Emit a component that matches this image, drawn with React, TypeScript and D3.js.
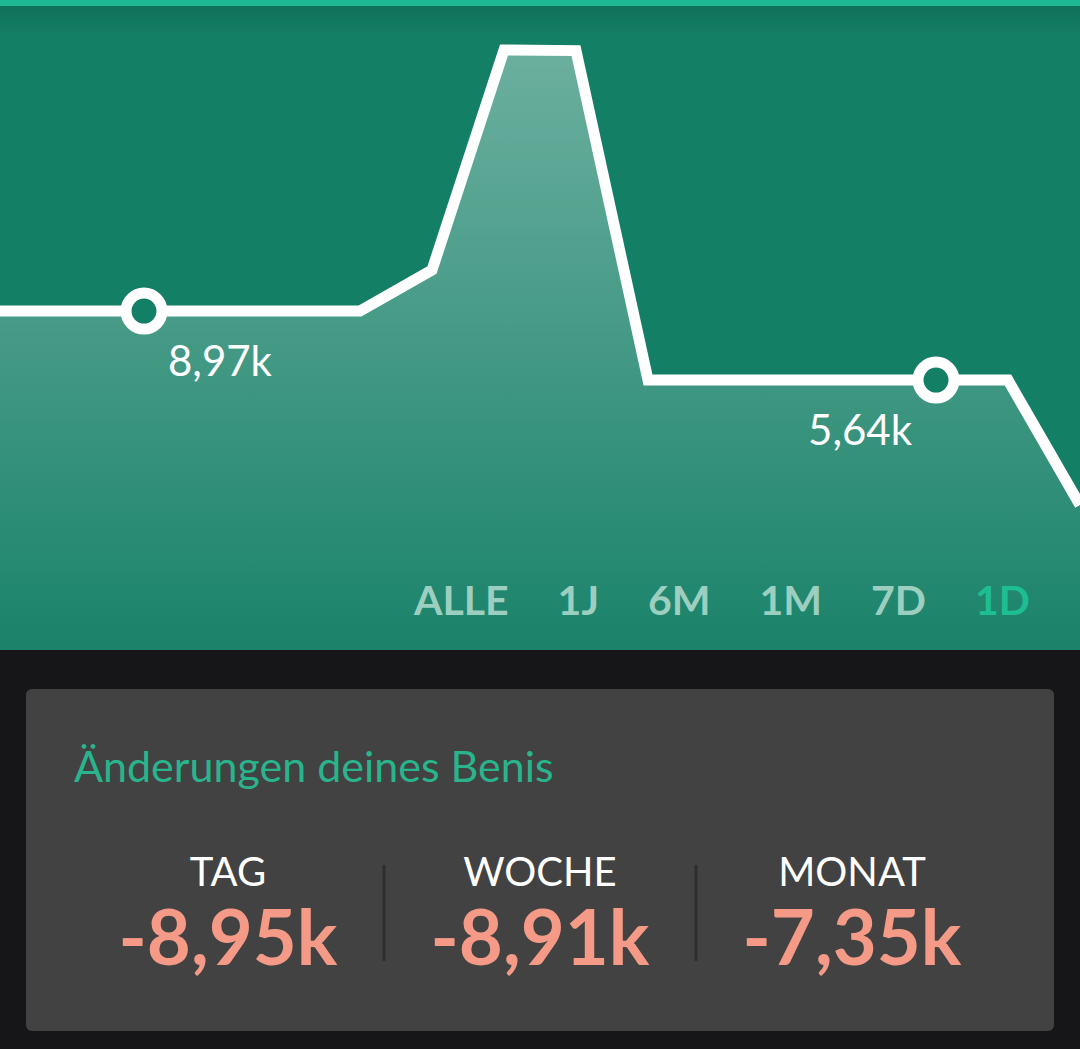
import React, { useEffect, useRef } from 'react';
import * as d3 from 'd3';

// Benis over the day, in thousands (one point every step)
const steps = [0, 1, 2, 3, 4, 5, 6, 7, 8, 9, 10, 11, 12, 13, 14, 15];
const benis = [8.97, 8.97, 8.97, 8.97, 8.97, 8.97, 10.95, 21.57, 21.54, 5.64, 5.64, 5.64, 5.64, 5.64, 5.64, -0.39];

// labelled markers: index into series, label
const markerIdx = [2, 13];
const markerText = ['8,97k', '5,64k'];

const ranges = ['ALLE', '1J', '6M', '1M', '7D', '1D'];
const activeRange = '1D';

const statLabels = ['TAG', 'WOCHE', 'MONAT'];
const statValues = ['-8,95k', '-8,91k', '-7,35k'];

const W = 1080;
const H = 1049;
const panelH = 650;
const FONT = 'Lato, "Open Sans", sans-serif';

const GREEN = '#137f65';

function App() {
	const rangeRef = useRef<SVGGElement>(null);

	const xScale = d3.scaleLinear().domain([0, 15]).range([0, W]);
	const yScale = d3.scaleLinear().domain([0, 20]).range([496.9, 82.5]);

	const pts: [number, number][] = steps.map((s, i) => [s, benis[i]]);

	const line = d3
		.line<[number, number]>()
		.x(d => xScale(d[0]))
		.y(d => yScale(d[1]));

	const area = d3
		.area<[number, number]>()
		.x(d => xScale(d[0]))
		.y0(panelH)
		.y1(d => yScale(d[1]));

	const statX = d3.scalePoint().domain(statLabels).range([228, 852]);

	// range buttons: right aligned, equal gaps between labels
	useEffect(() => {
		const g = d3.select(rangeRef.current);
		g.selectAll('*').remove();
		const texts = g
			.selectAll('text')
			.data(ranges)
			.enter()
			.append('text')
			.text(d => d)
			.attr('y', 615)
			.attr('text-anchor', 'end')
			.attr('font-family', FONT)
			.attr('font-weight', 'bold')
			.attr('font-size', 41)
			.attr('fill', d => (d === activeRange ? '#1ebe93' : '#9dcfc0'));

		const nodes = texts.nodes() as SVGTextElement[];
		let right = 1030;
		for (let i = nodes.length - 1; i >= 0; i--) {
			nodes[i].setAttribute('x', String(right));
			right -= nodes[i].getComputedTextLength() + 49;
		}
	}, []);

	return (
		<svg width={W} height={H} style={{ display: 'block' }}>
			<style>{`body{margin:0;background:#161618}`}</style>
			<defs>
				<linearGradient id="fillGrad" gradientUnits="userSpaceOnUse" x1="0" y1="45" x2="0" y2={panelH}>
					<stop offset="0" stopColor="#fff" stopOpacity={0.38} />
					<stop offset="1" stopColor="#fff" stopOpacity={0.03} />
				</linearGradient>
				<linearGradient id="shade" x1="0" y1="0" x2="0" y2="1">
					<stop offset="0" stopColor="#000" stopOpacity={0.12} />
					<stop offset="1" stopColor="#000" stopOpacity={0} />
				</linearGradient>
			</defs>

			<rect x={0} y={0} width={W} height={H} fill="#161618" />
			<rect x={0} y={0} width={W} height={panelH} fill={GREEN} />
			<rect x={0} y={6} width={W} height={28} fill="url(#shade)" />
			<rect x={0} y={0} width={W} height={6} fill="#1db992" />

			<path d={area(pts) || ''} fill="url(#fillGrad)" />
			<path
				d={line(pts) || ''}
				fill="none"
				stroke="#fff"
				strokeWidth={11}
				strokeLinejoin="miter"
			/>

			{markerIdx.map((idx, i) => {
				const cx = xScale(steps[idx]);
				const cy = yScale(benis[idx]);
				const left = i === 0;
				return (
					<g key={idx}>
						<circle cx={cx} cy={cy} r={18} fill={GREEN} stroke="#fff" strokeWidth={11} />
						<text
							x={left ? cx + 24 : cx - 24}
							y={cy + 65}
							textAnchor={left ? 'start' : 'end'}
							fill="#fff"
							fontFamily={FONT}
							fontSize={42}
						>
							{markerText[i]}
						</text>
					</g>
				);
			})}

			<g ref={rangeRef} />

			<rect x={26} y={689} width={1028} height={342} rx={6} fill="#424242" />
			<text x={74} y={782} fontFamily={FONT} fontSize={43} fill="#29b48c">
				Änderungen deines Benis
			</text>

			{statLabels.map((s, i) => (
				<g key={s}>
					<text
						x={statX(s)}
						y={886}
						textAnchor="middle"
						fontFamily={FONT}
						fontSize={40}
						fill="#fff"
					>
						{s}
					</text>
					<text
						x={statX(s)}
						y={965}
						textAnchor="middle"
						fontFamily={FONT}
						fontWeight="bold"
						fontSize={76}
						fill="#f59a86"
					>
						{statValues[i]}
					</text>
				</g>
			))}

			{[384, 696].map(x => (
				<line key={x} x1={x} x2={x} y1={865} y2={961} stroke="#2e2e2e" strokeWidth={3} />
			))}
		</svg>
	);
}

export default App;
